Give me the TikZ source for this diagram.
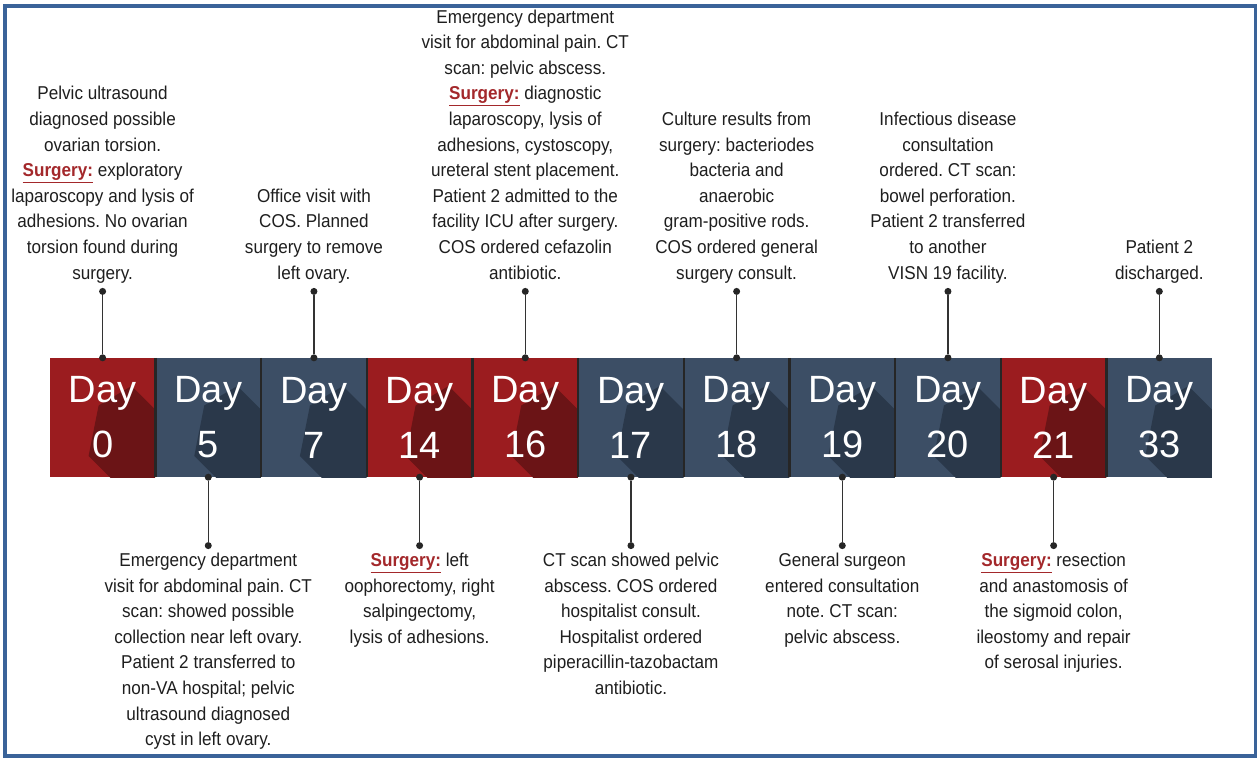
\documentclass[tikz,border=0pt]{standalone}
\usepackage{fontspec}
\setmainfont{Liberation Sans}
\newfontfamily\narrowfont[FakeStretch=0.92]{Liberation Sans}
\usepackage{tikz}
\usetikzlibrary{calc, positioning}
\definecolor{dred}{HTML}{9B1C1F}
\definecolor{dredshade}{HTML}{6B1416}
\definecolor{dblue}{HTML}{3C4E65}
\definecolor{dblueshade}{HTML}{2A384A}
\definecolor{sepcol}{HTML}{262626}
\definecolor{framecol}{HTML}{3A6399}
\definecolor{notetext}{HTML}{1E1E1E}
\definecolor{surgred}{HTML}{A3282B}
\newcommand{\surglabel}{\textcolor{surgred}{\textbf{\underline{Surgery:}}}}
\frenchspacing
\tikzset{daybox/.style={inner sep=0pt, minimum width=105.27pt, minimum height=119pt, fill=#1, text=white, align=center, font={\fontsize{38}{55}\selectfont},
  path picture={\fill[#1shade] ($(path picture bounding box.center)+(29,-31.5)$) -- ++(150,150) -- ++(-43,70) -- ++(-150,-150) -- ++(10,-50.5) -- cycle;}}}
\tikzstyle{dot}=[circle, fill=black!85, inner sep=0pt, minimum size=7pt]
\tikzstyle{pin}=[line width=1.2pt, black!80]
\tikzstyle{sepline}=[line width=2.5pt, sepcol]
\tikzstyle{noteup}=[inner sep=0pt, align=center, text=notetext, font={\narrowfont\fontsize{18.6}{25.6}\selectfont}, execute at end node=\strut]
\tikzstyle{notedown}=[inner sep=0pt, align=center, text=notetext, font={\narrowfont\fontsize{18.6}{25.6}\selectfont}, execute at begin node=\strut]

\begin{document}
\begin{tikzpicture}[x=1pt, y=-1pt]
\useasboundingbox (0,0) rectangle (1257,757);
% the frame
\draw[framecol, line width=3.5pt] (5,6) rectangle (1256,756);
% the day boxes
\node[daybox=dred] (D0) at (102.6,417.5) {Day\\0};
\node[daybox=dblue, right=0pt of D0] (D5) {Day\\5};
\node[daybox=dblue, right=0pt of D5] (D7) {Day\\7};
\node[daybox=dred, right=0pt of D7] (D14) {Day\\14};
\node[daybox=dred, right=0pt of D14] (D16) {Day\\16};
\node[daybox=dblue, right=0pt of D16] (D17) {Day\\17};
\node[daybox=dblue, right=0pt of D17] (D18) {Day\\18};
\node[daybox=dblue, right=0pt of D18] (D19) {Day\\19};
\node[daybox=dblue, right=0pt of D19] (D20) {Day\\20};
\node[daybox=dred, right=0pt of D20] (D21) {Day\\21};
\node[daybox=dblue, right=0pt of D21] (D33) {Day\\33};
% the separators
\draw[sepline] (D0.north east) -- (D0.south east) (D5.north east) -- (D5.south east)
  (D7.north east) -- (D7.south east) (D14.north east) -- (D14.south east)
  (D16.north east) -- (D16.south east) (D17.north east) -- (D17.south east)
  (D18.north east) -- (D18.south east) (D19.north east) -- (D19.south east)
  (D20.north east) -- (D20.south east) (D21.north east) -- (D21.south east);
% the pins above the band
\node[dot] (a0) at (D0.north) {};
\node[dot, above=59pt of a0] (b0) {};
\node[dot] (a7) at (D7.north) {};
\node[dot, above=59pt of a7] (b7) {};
\node[dot] (a16) at (D16.north) {};
\node[dot, above=59pt of a16] (b16) {};
\node[dot] (a18) at (D18.north) {};
\node[dot, above=59pt of a18] (b18) {};
\node[dot] (a20) at (D20.north) {};
\node[dot, above=59pt of a20] (b20) {};
\node[dot] (a33) at (D33.north) {};
\node[dot, above=59pt of a33] (b33) {};
\draw[pin] (a0) -- (b0) (a7) -- (b7) (a16) -- (b16) (a18) -- (b18) (a20) -- (b20) (a33) -- (b33);
% the pins below the band
\node[dot] (c5) at (D5.south) {};
\node[dot, below=61pt of c5] (d5) {};
\node[dot] (c14) at (D14.south) {};
\node[dot, below=61pt of c14] (d14) {};
\node[dot] (c17) at (D17.south) {};
\node[dot, below=61pt of c17] (d17) {};
\node[dot] (c19) at (D19.south) {};
\node[dot, below=61pt of c19] (d19) {};
\node[dot] (c21) at (D21.south) {};
\node[dot, below=61pt of c21] (d21) {};
\draw[pin] (c5) -- (d5) (c14) -- (d14) (c17) -- (d17) (c19) -- (d19) (c21) -- (d21);
% the notes above
\node[noteup, above=0.8pt of b0] (n0) {Pelvic ultrasound\\diagnosed possible\\ovarian torsion.\\\surglabel{} exploratory\\laparoscopy and lysis of\\adhesions. No ovarian\\torsion found during\\surgery.};
\node[noteup, above=0.8pt of b7] (n7) {Office visit with\\COS. Planned\\surgery to remove\\left ovary.};
\node[noteup, above=0.8pt of b16] (n16) {Emergency department\\visit for abdominal pain. CT\\scan: pelvic abscess.\\\surglabel{} diagnostic\\laparoscopy, lysis of\\adhesions, cystoscopy,\\ureteral stent placement.\\Patient 2 admitted to the\\facility ICU after surgery.\\COS ordered cefazolin\\antibiotic.};
\node[noteup, above=0.8pt of b18] (n18) {Culture results from\\surgery: bacteriodes\\bacteria and\\anaerobic\\gram-positive rods.\\COS ordered general\\surgery consult.};
\node[noteup, above=0.8pt of b20] (n20) {Infectious disease\\consultation\\ordered. CT scan:\\bowel perforation.\\Patient 2 transferred\\to another\\VISN 19 facility.};
\node[noteup, above=0.8pt of b33] (n33) {Patient 2\\discharged.};
% the notes below
\node[notedown, below=3.5pt of d5] (n5) {Emergency department\\visit for abdominal pain. CT\\scan: showed possible\\collection near left ovary.\\Patient 2 transferred to\\non-VA hospital; pelvic\\ultrasound diagnosed\\cyst in left ovary.};
\node[notedown, below=3.5pt of d14] (n14) {\surglabel{} left\\oophorectomy, right\\salpingectomy,\\lysis of adhesions.};
\node[notedown, below=3.5pt of d17] (n17) {CT scan showed pelvic\\abscess. COS ordered\\hospitalist consult.\\Hospitalist ordered\\piperacillin-tazobactam\\antibiotic.};
\node[notedown, below=3.5pt of d19] (n19) {General surgeon\\entered consultation\\note. CT scan:\\pelvic abscess.};
\node[notedown, below=3.5pt of d21] (n21) {\surglabel{} resection\\and anastomosis of\\the sigmoid colon,\\ileostomy and repair\\of serosal injuries.};
\end{tikzpicture}
\end{document}
